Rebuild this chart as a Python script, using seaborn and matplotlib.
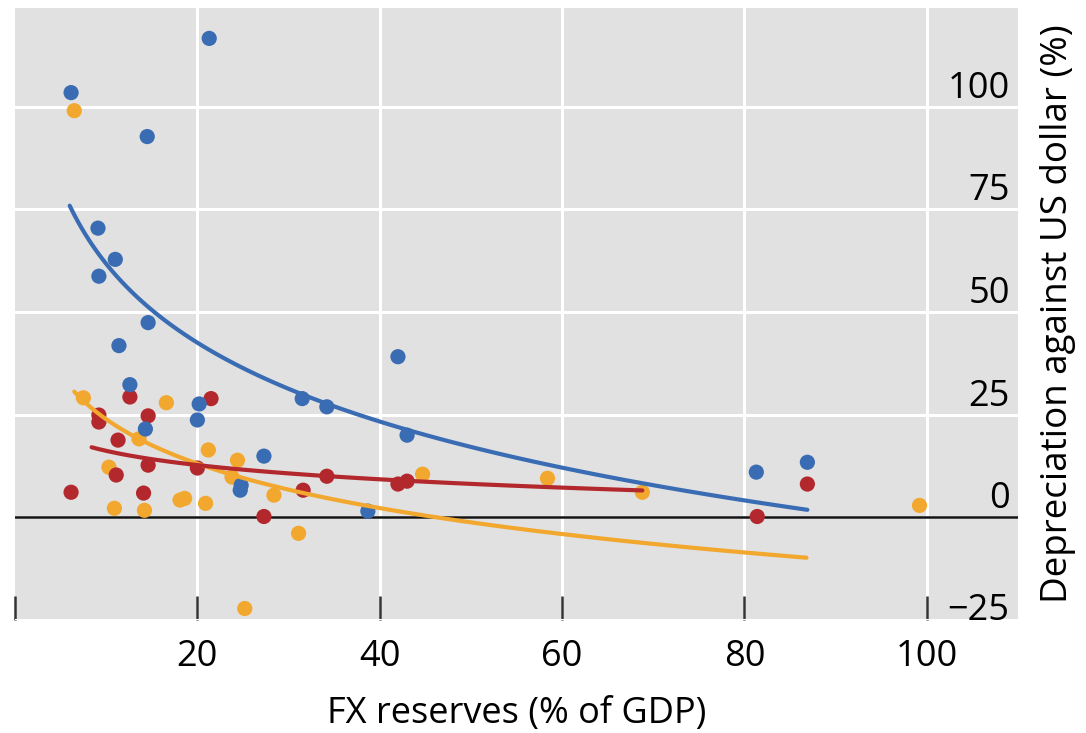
import numpy as np
import pandas as pd
import matplotlib
matplotlib.use("Agg")
import matplotlib.pyplot as plt
import seaborn as sns
from matplotlib.ticker import FixedLocator

# ---------------- data ----------------
blue_x = [6.15, 21.3, 14.5, 9.1, 11.0, 9.2, 14.6, 11.4, 42.0, 12.6, 31.5, 34.2,
          20.2, 20.0, 14.3, 43.0, 27.3, 24.8, 24.7, 38.7, 81.3, 86.9]
blue_y = [103.4, 116.6, 92.7, 70.4, 62.8, 58.7, 47.4, 41.8, 39.1, 32.3, 28.9, 26.9,
          27.6, 23.7, 21.5, 20.0, 14.9, 7.8, 6.6, 1.5, 11.0, 13.4]

red_x = [6.15, 9.2, 9.2, 12.6, 14.6, 11.3, 14.6, 11.1, 14.1, 20.0, 21.5, 27.3,
         31.6, 34.2, 42.0, 43.0, 81.4, 86.9]
red_y = [6.1, 24.9, 23.2, 29.3, 24.7, 18.8, 12.7, 10.3, 5.9, 12.0, 28.9, 0.2,
         6.6, 10.0, 8.1, 8.8, 0.2, 8.1]

yellow_x = [6.5, 7.5, 16.6, 13.6, 21.2, 24.4, 10.3, 23.8, 28.4, 18.1, 18.6, 20.9,
            10.9, 14.2, 31.1, 25.2, 44.7, 58.4, 68.8, 99.2]
yellow_y = [99.0, 29.1, 27.9, 19.1, 16.4, 13.9, 12.2, 9.8, 5.4, 4.2, 4.6, 3.4,
            2.2, 1.7, -3.9, -22.2, 10.5, 9.5, 6.1, 2.9]

series_names = ["Group A", "Group B", "Group C"]          # yellow, red, blue
series_colors = ["#f2a72f", "#b3282d", "#3a6cb4"]

# fitted log trend lines: y = intercept + slope * ln(x), drawn over [start, end]
fit_intercept = [59.8, 27.7, 125.5]
fit_slope = [-15.6, -5.0, -27.7]
fit_x_start = [6.5, 8.4, 6.0]
fit_x_end = [86.8, 68.8, 86.9]

x_ticks = [20, 40, 60, 80, 100]
x_tick_labels = ["20", "40", "60", "80", "100"]
y_ticks = [-25, 0, 25, 50, 75, 100]
y_tick_labels = ["\u221225", "0", "25", "50", "75", "100"]

# ---------------- styling ----------------
sns.set_theme(style="darkgrid", rc={
    "axes.facecolor": "#e1e1e1",
    "grid.color": "white",
    "grid.linewidth": 2.2,
    "figure.facecolor": "white",
})
plt.rcParams["font.family"] = ["Open Sans", "DejaVu Sans"]

fig = plt.figure(figsize=(10.86, 7.33), dpi=100)
ax = fig.add_axes([15 / 1086, 1 - 620 / 733, (1018 - 15) / 1086, (620 - 8) / 733])

# scatter
xs = yellow_x + red_x + blue_x
ys = yellow_y + red_y + blue_y
groups = ([series_names[0]] * len(yellow_x) + [series_names[1]] * len(red_x)
          + [series_names[2]] * len(blue_x))
df = pd.DataFrame({"reserves": xs, "depreciation": ys, "series": groups})
palette = dict(zip(series_names, series_colors))

sns.scatterplot(data=df, x="reserves", y="depreciation", hue="series",
                palette=palette, s=120, edgecolor="none", linewidth=0,
                legend=False, ax=ax, zorder=3)

# trend lines
fit_rows = []
for name, a, b, x0, x1 in zip(series_names, fit_intercept, fit_slope,
                              fit_x_start, fit_x_end):
    xx = np.geomspace(x0, x1, 120)
    for xv in xx:
        fit_rows.append({"reserves": xv, "depreciation": a + b * np.log(xv),
                         "series": name})
fit_df = pd.DataFrame(fit_rows)
sns.lineplot(data=fit_df, x="reserves", y="depreciation", hue="series",
             palette=palette, linewidth=3, legend=False, ax=ax, zorder=4,
             estimator=None, sort=True)

ax.axhline(0, color="#111111", linewidth=1.8, zorder=2.5)

ax.set_xlim(0, 110)
ax.set_ylim(-25, 124)

for s in ax.spines.values():
    s.set_visible(False)

# x axis
ax.set_xticks(x_ticks, x_tick_labels)
ax.xaxis.set_minor_locator(FixedLocator([0]))
ax.tick_params(axis="x", which="both", direction="in", length=17, width=1.8,
               color="#333333", bottom=True, top=False)
ax.tick_params(axis="x", which="major", pad=14, labelsize=26, labelcolor="black")
ax.grid(False, which="minor")
ax.set_xlabel("FX reserves (% of GDP)", fontsize=26, color="black", labelpad=15)

# y axis on the right, labels inside the plot area
ax.yaxis.tick_right()
ax.set_yticks(y_ticks, y_tick_labels)
ax.tick_params(axis="y", which="both", length=0, pad=-6, labelsize=26,
               labelcolor="black", left=False, right=False,
               labelleft=False, labelright=True)
for lab in ax.get_yticklabels():
    lab.set_horizontalalignment("right")
    lab.set_verticalalignment("baseline" if lab.get_text() == "\u221225" else "bottom")
ax.set_ylabel("Depreciation against US dollar (%)", fontsize=26.5, color="black")
ax.yaxis.set_label_position("right")
ax.yaxis.set_label_coords(1.022, 0.5)

fig.savefig("out.png", dpi=100)
